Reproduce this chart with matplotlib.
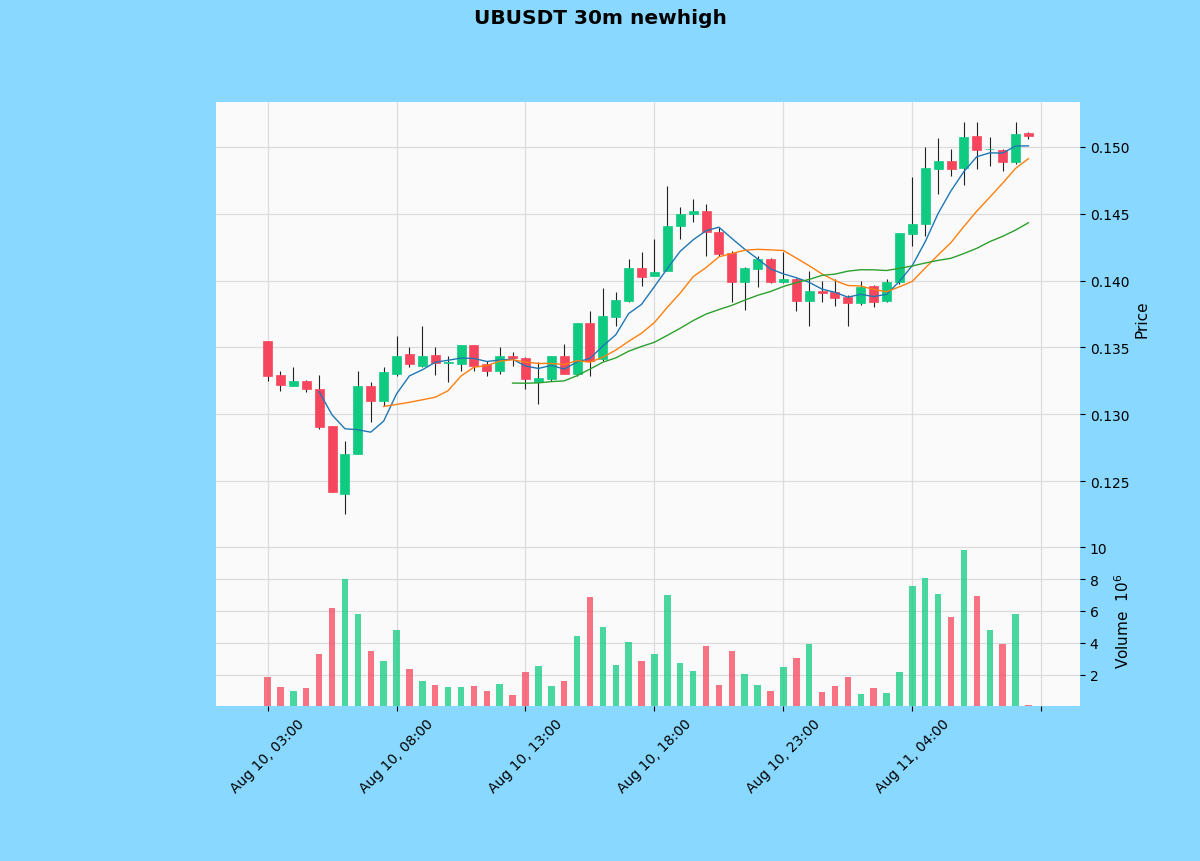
import matplotlib
matplotlib.use("Agg")
import matplotlib.pyplot as plt
import numpy as np
import pandas as pd

title = "UBUSDT 30m newhigh"
start_time = "2023-08-10 03:00"
interval = "30min"

opens = [0.13548, 0.13293, 0.13211, 0.13249, 0.13189, 0.12912, 0.12403, 0.12702, 0.13211, 0.13099,
         0.13301, 0.13451, 0.13361, 0.13443, 0.13385, 0.13376, 0.13518, 0.13376, 0.13323, 0.13436,
         0.13421, 0.13241, 0.13264, 0.13436, 0.13301, 0.13683, 0.13413, 0.13728, 0.13847, 0.14094,
         0.14034, 0.14072, 0.14409, 0.14499, 0.14521, 0.14364, 0.14207, 0.13990, 0.14087, 0.14162,
         0.13990, 0.14012, 0.13847, 0.13920, 0.13915, 0.13877, 0.13832, 0.13960, 0.13847, 0.13990,
         0.14349, 0.14424, 0.14835, 0.14895, 0.14843, 0.15082, 0.14980, 0.14978, 0.14888, 0.15105]
highs = [0.13548, 0.13323, 0.13353, 0.13260, 0.13293, 0.12912, 0.12799, 0.13323, 0.13241, 0.13353,
         0.13585, 0.13503, 0.13660, 0.13503, 0.13436, 0.13518, 0.13518, 0.13400, 0.13503, 0.13466,
         0.13430, 0.13391, 0.13436, 0.13526, 0.13683, 0.13772, 0.13945, 0.13915, 0.14162, 0.14214,
         0.14311, 0.14708, 0.14551, 0.14611, 0.14573, 0.14400, 0.14220, 0.14100, 0.14184, 0.14170,
         0.14214, 0.14020, 0.14072, 0.13997, 0.14012, 0.13890, 0.13997, 0.13970, 0.14010, 0.14356,
         0.14775, 0.15000, 0.15067, 0.14985, 0.15187, 0.15187, 0.15075, 0.14980, 0.15187, 0.15110]
lows = [0.13249, 0.13174, 0.13211, 0.13166, 0.12890, 0.12418, 0.12253, 0.12700, 0.12942, 0.13061,
        0.13286, 0.13353, 0.13353, 0.13293, 0.13241, 0.13323, 0.13323, 0.13286, 0.13300, 0.13361,
        0.13189, 0.13076, 0.13250, 0.13300, 0.13286, 0.13286, 0.13400, 0.13660, 0.13840, 0.13960,
        0.14030, 0.14070, 0.14311, 0.14439, 0.14184, 0.14180, 0.13840, 0.13780, 0.13952, 0.13980,
        0.13985, 0.13772, 0.13660, 0.13840, 0.13810, 0.13660, 0.13820, 0.13802, 0.13840, 0.13975,
        0.14260, 0.14334, 0.14648, 0.14783, 0.14716, 0.14835, 0.14858, 0.14820, 0.14870, 0.15060]
closes = [0.13286, 0.13219, 0.13249, 0.13189, 0.12904, 0.12418, 0.12702, 0.13211, 0.13099, 0.13316,
          0.13436, 0.13376, 0.13436, 0.13383, 0.13390, 0.13518, 0.13361, 0.13323, 0.13436, 0.13421,
          0.13264, 0.13271, 0.13436, 0.13301, 0.13683, 0.13398, 0.13735, 0.13855, 0.14094, 0.14027,
          0.14064, 0.14409, 0.14499, 0.14521, 0.14364, 0.14199, 0.13990, 0.14094, 0.14162, 0.13990,
          0.14012, 0.13847, 0.13922, 0.13907, 0.13870, 0.13832, 0.13952, 0.13840, 0.13990, 0.14356,
          0.14424, 0.14843, 0.14895, 0.14835, 0.15075, 0.14978, 0.14985, 0.14888, 0.15097, 0.15082]
volumes = [1.83, 1.21, 0.96, 1.15, 3.29, 6.21, 7.98, 5.79, 3.50, 2.875,
           4.79, 2.35, 1.58, 1.35, 1.21, 1.21, 1.27, 0.96, 1.42, 0.75,
           2.15, 2.52, 1.27, 1.58, 4.44, 6.875, 5.00, 2.60, 4.02, 2.875,
           3.31, 7.00, 2.71, 2.25, 3.81, 1.375, 3.50, 2.04, 1.375, 0.96,
           2.46, 3.02, 3.92, 0.90, 1.31, 1.83, 0.79, 1.15, 0.83, 2.15,
           7.56, 8.08, 7.04, 5.65, 9.85, 6.94, 4.79, 3.92, 5.79, 0.10]  # x 1e6
mav_periods = [5, 10, 20]
mav_colors = ["#1f77b4", "#ff7f0e", "#2ca02c"]

up_color = "#0ecb81"
down_color = "#f6465d"
fig_bg = "#88d8ff"
ax_bg = "#fafafa"
grid_color = "#dcdcdc"


def main():
    dates = pd.date_range(start_time, periods=len(closes), freq=interval)
    x = np.arange(len(closes))
    o = np.array(opens)
    c = np.array(closes)
    up = c >= o
    colors = [up_color if u else down_color for u in up]

    fig = plt.figure(figsize=(12, 8.62), dpi=100, facecolor=fig_bg)
    ax = fig.add_axes([0.18, 0.3794, 0.72, 0.5011])
    axv = fig.add_axes([0.18, 0.1798, 0.72, 0.1996], sharex=ax)

    for a in (ax, axv):
        a.set_facecolor(ax_bg)
        a.grid(True, color=grid_color, linewidth=0.9)
        a.set_axisbelow(True)
        a.yaxis.tick_right()
        a.yaxis.set_label_position("right")
        for s in a.spines.values():
            s.set_visible(False)
        a.tick_params(labelsize=10)

    # candles
    ax.vlines(x, lows, highs, color="#222222", linewidth=0.8, zorder=2)
    ax.bar(x, c - o, bottom=o, width=0.7, color=colors, edgecolor=colors,
           linewidth=0.5, zorder=3)

    # moving averages
    cs = pd.Series(closes)
    for p, col in zip(mav_periods, mav_colors):
        ax.plot(x, cs.rolling(p).mean(), color=col, linewidth=1.0, zorder=4)

    rng = max(highs) - min(lows)
    ax.set_ylim(min(lows) - 0.05 * rng, max(highs) + 0.05 * rng)
    yt = [0.125, 0.130, 0.135, 0.140, 0.145, 0.150]
    ax.set_yticks(yt)
    ax.set_yticklabels(["%.3f" % t for t in yt])
    ax.set_ylabel("Price", fontsize=11)
    ax.tick_params(axis="x", bottom=False, labelbottom=False)

    # volume
    vol = np.array(volumes) * 1e6
    axv.bar(x, vol, width=0.5, color=colors, alpha=0.75, zorder=3)
    axv.set_ylim(0.3 * vol.min(), 1.1 * vol.max())
    axv.set_yticks([2e6, 4e6, 6e6, 8e6, 10e6])
    axv.set_yticklabels(["2", "4", "6", "8", "10"])
    axv.set_ylabel("Volume  $10^{6}$", fontsize=11)

    n = len(closes)
    axv.set_xlim(-1 - 0.05 * n, n + 0.05 * n)
    ticks = list(range(0, n + 1, 10))
    labels = [dates[t].strftime("%b %d, %H:%M") if t < n else "" for t in ticks]
    axv.set_xticks(ticks)
    axv.set_xticklabels(labels, rotation=45, ha="center", fontsize=10)

    fig.suptitle(title, fontsize=14.5, fontweight="bold", y=0.99)
    fig.savefig("out.png", dpi=100, facecolor=fig_bg)


if __name__ == "__main__":
    main()
